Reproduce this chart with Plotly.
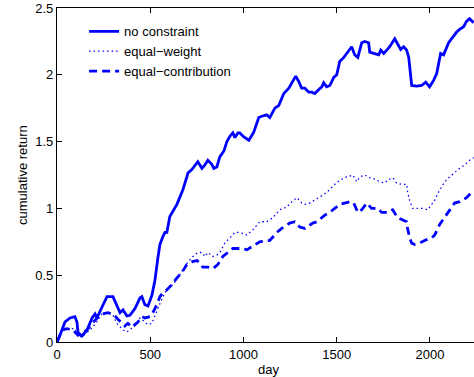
import plotly.graph_objects as go

# Cumulative return of three portfolio weighting schemes over trading days
day_nc = [0, 16, 43, 70, 96, 107, 113, 134, 161, 188, 204, 214, 241, 268, 300, 321, 338, 354,
          375, 391, 418, 445, 455, 471, 488, 509, 525, 541, 552, 568, 579, 589, 605, 643, 675,
          696, 702, 723, 739, 755, 777, 793, 809, 830, 841, 857, 873, 895, 911, 927, 943, 954,
          970, 980, 1002, 1029, 1055, 1082, 1098, 1125, 1141, 1168, 1189, 1216, 1243, 1259,
          1280, 1296, 1312, 1329, 1350, 1366, 1382, 1404, 1420, 1430, 1446, 1463, 1484, 1500,
          1516, 1538, 1554, 1580, 1596, 1613, 1634, 1650, 1671, 1677, 1698, 1714, 1725, 1736,
          1752, 1768, 1784, 1811, 1832, 1843, 1859, 1875, 1886, 1902, 1929, 1955, 1977, 1998,
          2020, 2036, 2057, 2073, 2100, 2127, 2143, 2159, 2180, 2196, 2212, 2234]
ret_nc = [0.00, 0.05, 0.15, 0.18, 0.19, 0.15, 0.07, 0.045, 0.09, 0.18, 0.21, 0.18, 0.26, 0.34,
          0.34, 0.28, 0.22, 0.24, 0.195, 0.20, 0.25, 0.33, 0.34, 0.28, 0.27, 0.35, 0.46, 0.63,
          0.73, 0.79, 0.82, 0.82, 0.94, 1.03, 1.14, 1.235, 1.265, 1.29, 1.32, 1.35, 1.30, 1.325,
          1.36, 1.33, 1.30, 1.31, 1.385, 1.43, 1.50, 1.54, 1.565, 1.53, 1.565, 1.565, 1.535,
          1.51, 1.57, 1.68, 1.69, 1.70, 1.68, 1.75, 1.77, 1.86, 1.90, 1.94, 1.99, 1.95, 1.90,
          1.90, 1.87, 1.87, 1.86, 1.89, 1.91, 1.94, 1.91, 1.92, 1.98, 2.00, 2.10, 2.13, 2.16,
          2.21, 2.15, 2.13, 2.24, 2.25, 2.24, 2.17, 2.16, 2.155, 2.15, 2.185, 2.16, 2.185, 2.21,
          2.27, 2.22, 2.19, 2.21, 2.185, 2.13, 1.92, 1.915, 1.92, 1.945, 1.91, 1.96, 2.01, 2.16,
          2.15, 2.24, 2.29, 2.32, 2.34, 2.36, 2.40, 2.42, 2.39]

day_ew = [0, 16, 43, 96, 113, 134, 177, 214, 230, 246, 268, 284, 300, 321, 338, 354, 375, 391,
          407, 429, 445, 471, 488, 509, 525, 541, 568, 589, 621, 648, 675, 702, 729, 755, 777,
          793, 809, 836, 857, 873, 900, 927, 954, 980, 1018, 1050, 1087, 1125, 1157, 1195, 1232,
          1259, 1286, 1312, 1329, 1355, 1382, 1409, 1436, 1462, 1489, 1516, 1543, 1570, 1586,
          1607, 1623, 1650, 1677, 1704, 1730, 1757, 1773, 1800, 1821, 1848, 1875, 1880, 1891,
          1907, 1934, 1961, 1988, 2009, 2025, 2041, 2062, 2079, 2105, 2132, 2159, 2186, 2212,
          2234]
ret_ew = [0.00, 0.05, 0.10, 0.10, 0.04, 0.04, 0.09, 0.15, 0.19, 0.22, 0.22, 0.21, 0.20, 0.14,
          0.11, 0.09, 0.075, 0.09, 0.11, 0.14, 0.18, 0.15, 0.13, 0.14, 0.19, 0.25, 0.34, 0.39,
          0.43, 0.48, 0.54, 0.60, 0.64, 0.67, 0.67, 0.64, 0.67, 0.64, 0.65, 0.67, 0.74, 0.78,
          0.82, 0.82, 0.80, 0.84, 0.90, 0.90, 0.93, 0.99, 1.01, 1.05, 1.08, 1.04, 1.03, 1.04,
          1.06, 1.085, 1.11, 1.14, 1.18, 1.21, 1.23, 1.24, 1.25, 1.20, 1.235, 1.25, 1.23, 1.22,
          1.20, 1.19, 1.21, 1.23, 1.19, 1.18, 1.18, 1.12, 1.06, 1.00, 1.00, 1.00, 0.99, 1.03,
          1.06, 1.11, 1.16, 1.20, 1.235, 1.27, 1.30, 1.325, 1.36, 1.38]

day_ec = [0, 16, 27, 54, 86, 113, 134, 161, 188, 214, 230, 246, 273, 295, 311, 327, 348, 364,
          380, 402, 418, 434, 455, 471, 498, 514, 536, 552, 568, 589, 616, 643, 670, 696, 723,
          750, 766, 782, 809, 836, 862, 889, 916, 943, 970, 996, 1018, 1061, 1087, 1141, 1179,
          1205, 1248, 1275, 1302, 1329, 1371, 1393, 1436, 1462, 1500, 1516, 1570, 1591, 1613,
          1634, 1661, 1687, 1720, 1741, 1773, 1800, 1827, 1854, 1875, 1880, 1891, 1902, 1918,
          1945, 1971, 2009, 2025, 2052, 2095, 2132, 2159, 2196, 2223, 2234]
ret_ec = [0.00, 0.05, 0.09, 0.10, 0.09, 0.05, 0.07, 0.09, 0.14, 0.18, 0.20, 0.21, 0.22, 0.21,
          0.195, 0.17, 0.14, 0.12, 0.14, 0.11, 0.13, 0.15, 0.19, 0.18, 0.19, 0.22, 0.28, 0.34,
          0.37, 0.39, 0.43, 0.48, 0.52, 0.58, 0.60, 0.61, 0.59, 0.56, 0.56, 0.55, 0.58, 0.64,
          0.67, 0.70, 0.70, 0.70, 0.69, 0.73, 0.75, 0.76, 0.82, 0.85, 0.89, 0.90, 0.86, 0.85,
          0.89, 0.90, 0.95, 0.97, 1.01, 1.03, 1.05, 1.04, 0.97, 0.99, 1.04, 1.00, 1.00, 0.97,
          0.97, 0.99, 0.93, 0.91, 0.90, 0.85, 0.78, 0.74, 0.73, 0.74, 0.76, 0.78, 0.80, 0.88,
          0.965, 1.04, 1.05, 1.08, 1.12, 1.12]

x_ticks = [0, 500, 1000, 1500, 2000]
y_ticks = [0, 0.5, 1, 1.5, 2, 2.5]
y_tick_text = ["0", "0.5", "1", "1.5", "2", "2.5"]

BLUE = "#0000ff"
FONT = "Liberation Sans, Arial, sans-serif"

fig = go.Figure()
fig.add_trace(go.Scatter(x=day_nc, y=ret_nc, mode="lines", name="no constraint",
                         line=dict(color=BLUE, width=2.8)))
fig.add_trace(go.Scatter(x=day_ew, y=ret_ew, mode="lines", name="equal\u2212weight",
                         line=dict(color=BLUE, width=1.3, dash="1.5px,3px")))
fig.add_trace(go.Scatter(x=day_ec, y=ret_ec, mode="lines", name="equal\u2212contribution",
                         line=dict(color=BLUE, width=2.8, dash="8px,5px")))
# invisible trace carrying the top (mirrored) x axis with inward ticks
fig.add_trace(go.Scatter(x=[0], y=[0], xaxis="x2", mode="none", showlegend=False,
                         hoverinfo="skip"))

axis_common = dict(showline=True, linecolor="black", linewidth=1.2, ticks="inside",
                   ticklen=5, tickcolor="black", tickwidth=1, showgrid=False,
                   zeroline=False, tickfont=dict(family=FONT, size=13, color="black"))

fig.update_layout(
    width=474, height=377,
    margin=dict(l=57, r=0, t=8, b=35),
    paper_bgcolor="white", plot_bgcolor="white",
    font=dict(family=FONT, size=13, color="black"),
    xaxis=dict(range=[0, 2236], tickvals=x_ticks, ticktext=[str(v) for v in x_ticks],
               **axis_common),
    xaxis2=dict(range=[0, 2236], overlaying="x", side="top", tickvals=x_ticks,
                showticklabels=False, showline=True, linecolor="black", linewidth=1.2,
                ticks="inside", ticklen=5, tickcolor="black", showgrid=False,
                zeroline=False),
    yaxis=dict(range=[0, 2.5], tickvals=y_ticks, ticktext=y_tick_text, **axis_common),
    legend=dict(x=0.065, y=0.975, xanchor="left", yanchor="top", bgcolor="rgba(0,0,0,0)",
                font=dict(family=FONT, size=13, color="black"), tracegroupgap=0),
    showlegend=True,
    annotations=[
        dict(text="day", xref="paper", yref="paper", x=0.506, y=0, yshift=-27,
             xanchor="center", yanchor="middle", showarrow=False,
             font=dict(family=FONT, size=13, color="black")),
        dict(text="cumulative return", xref="paper", yref="paper", x=0, xshift=-35,
             y=0.5, textangle=-90, xanchor="center", yanchor="middle", showarrow=False,
             font=dict(family=FONT, size=13, color="black")),
    ],
)

fig.write_html("out.html")
